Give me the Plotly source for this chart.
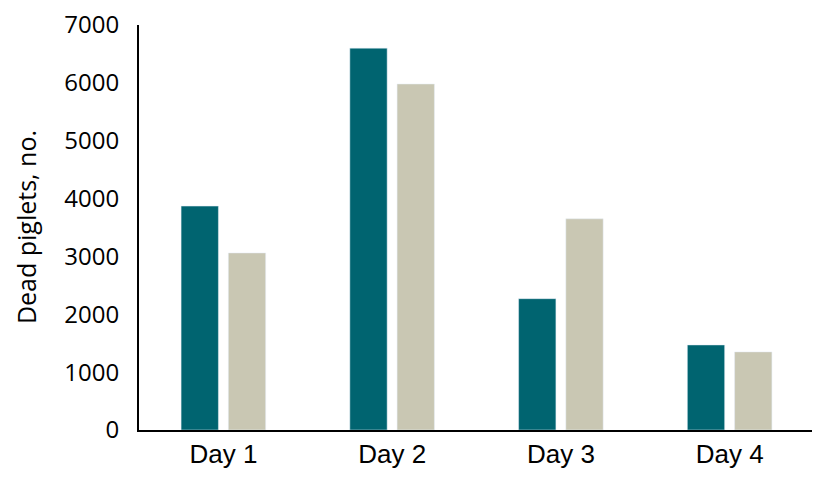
import plotly.graph_objects as go

# dead piglets per day, two groups
days = ['Day 1', 'Day 2', 'Day 3', 'Day 4']
group_a = [3870, 6600, 2270, 1470]
group_b = [3060, 5980, 3650, 1350]

fig = go.Figure()
fig.add_trace(go.Bar(x=days, y=group_a, marker_color='#006470', name='A'))
fig.add_trace(go.Bar(x=days, y=group_b, marker_color='#C9C7B3', name='B'))

fig.update_layout(
    width=812, height=478,
    margin=dict(l=131, r=6, t=17, b=56),
    paper_bgcolor='white', plot_bgcolor='white',
    barmode='group', bargap=0.44, bargroupgap=0.21,
    showlegend=False,
    font=dict(family='Open Sans', color='black'),
)
fig.update_xaxes(
    showline=True, linecolor='black', linewidth=2,
    showgrid=False, ticks='', ticklabelstandoff=0,
    automargin=False,
    tickfont=dict(family='Liberation Sans', size=26),
)
fig.update_yaxes(
    range=[0, 7000], dtick=1000,
    showline=True, linecolor='black', linewidth=2,
    showgrid=False, zeroline=False, ticks='', ticklabelstandoff=13,
    ticklabeloverflow='allow', automargin=False,
    tickfont=dict(family='Open Sans', size=24),
)

# y title as annotation so it sits further left
fig.add_annotation(
    text='Dead piglets, no.', textangle=-90,
    xref='paper', yref='paper', x=-0.168, y=0.5,
    xanchor='center', yanchor='middle', showarrow=False,
    borderpad=0,
    font=dict(family='Open Sans', size=25),
)

fig.write_html('out.html')
